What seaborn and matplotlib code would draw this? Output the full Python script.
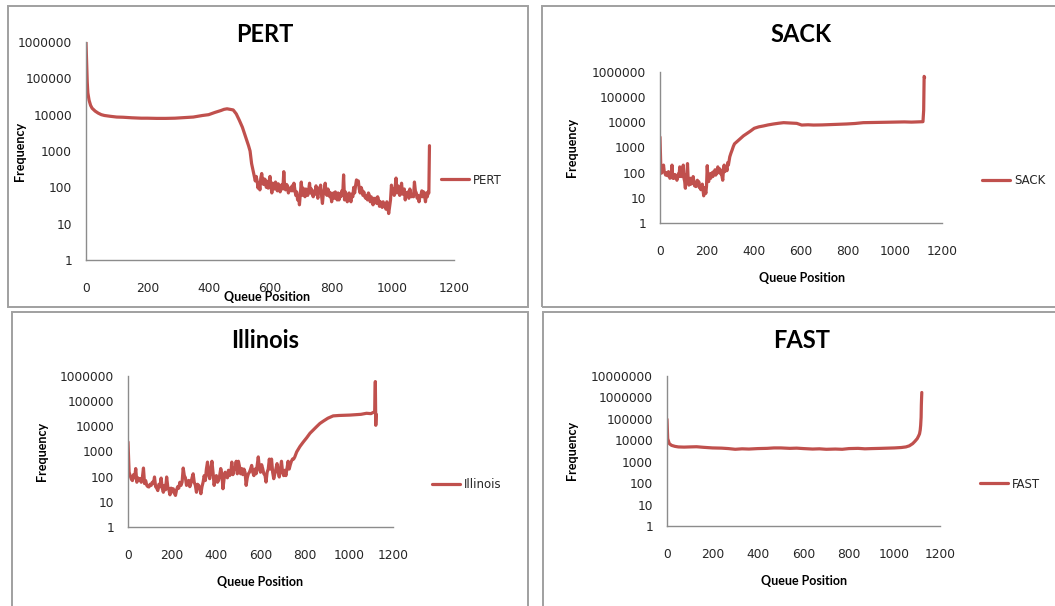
import matplotlib
matplotlib.use("Agg")
import matplotlib.pyplot as plt
import pandas as pd
import seaborn as sns
from matplotlib.patches import Rectangle
from matplotlib.ticker import FixedLocator, FuncFormatter, NullLocator

# ---------------------------------------------------------------- data
# PERT: smooth head, then a noisy tail sampled every 3 positions
pert_head_pos = [0, 2, 4, 6, 10, 15, 20, 30, 40, 50, 60, 80, 100, 120, 150,
                 180, 200, 230, 260, 290, 320, 350, 380, 400, 420, 440, 450,
                 460, 470, 480, 490, 500, 510, 520, 530, 535, 540, 546, 552]
pert_head_freq = [1000000, 300000, 80000, 40000, 25000, 18000, 15000, 12500,
                  11000, 10000, 9500, 9000, 8600, 8500, 8200, 8000, 8000, 7900,
                  7900, 8000, 8300, 8600, 9500, 10000, 11500, 13000, 14000,
                  14500, 14000, 13500, 10500, 7000, 4500, 2500, 1400, 1000,
                  450, 260, 150]
pert_tail_pos = list(range(555, 1119, 3)) + [1118, 1120]
pert_tail_freq = [200, 150, 95, 130, 85, 180, 240, 150, 120, 170,
                  160, 100, 140, 95, 150, 200, 110, 70, 130, 120,
                  90, 140, 100, 80, 125, 110, 75, 100, 120, 90,
                  270, 95, 85, 120, 110, 70, 95, 85, 80, 110,
                  80, 130, 90, 60, 75, 45, 60, 33, 70, 140,
                  60, 95, 80, 55, 90, 75, 60, 85, 130, 70,
                  90, 65, 55, 80, 65, 110, 75, 50, 95, 80,
                  115, 60, 36, 70, 85, 130, 65, 60, 90, 75,
                  55, 70, 40, 65, 70, 50, 75, 60, 45, 70,
                  45, 65, 55, 80, 60, 220, 45, 75, 60, 40,
                  55, 70, 50, 40, 65, 55, 100, 70, 110, 160,
                  130, 150, 90, 70, 100, 85, 60, 75, 55, 50,
                  60, 45, 70, 60, 40, 55, 45, 33, 50, 45,
                  50, 36, 55, 45, 30, 40, 35, 28, 40, 30,
                  35, 25, 40, 30, 19, 30, 45, 115, 70, 90,
                  60, 100, 180, 70, 110, 100, 60, 85, 130, 65,
                  70, 90, 45, 70, 60, 75, 50, 90, 65, 55,
                  60, 55, 140, 80, 70, 50, 60, 40, 55, 60,
                  80, 55, 75, 60, 40, 70, 55, 75,
                  70, 1400]

# SACK: noisy start sampled every 3 positions, then the smooth plateau
sack_head_pos = list(range(0, 300, 3))
sack_head_freq = [2600, 230, 95, 120, 130, 200, 110, 95, 80, 100,
                  95, 75, 110, 90, 60, 80, 70, 200, 60, 75,
                  60, 85, 75, 60, 50, 65, 90, 70, 170, 80,
                  70, 90, 110, 200, 60, 45, 24, 80, 60, 230,
                  50, 32, 45, 60, 35, 44, 40, 70, 45, 30,
                  40, 28, 35, 50, 30, 44, 25, 30, 21, 28,
                  35, 20, 12, 25, 21, 15, 30, 190, 60, 44,
                  70, 90, 60, 80, 100, 70, 110, 90, 130, 80,
                  90, 120, 170, 100, 110, 140, 90, 110, 70, 50,
                  130, 200, 110, 130, 170, 120, 250, 200, 300, 430]
sack_tail_pos = [302, 307, 312, 317, 330, 342, 355, 370, 385, 401, 420, 441,
                 460, 483, 505, 526, 555, 582, 603, 630, 653, 690, 724, 760,
                 794, 830, 865, 900, 936, 970, 1006, 1040, 1070, 1100, 1119,
                 1122, 1124, 1126]
sack_tail_freq = [600, 800, 1100, 1400, 1800, 2300, 2900, 3600, 4500, 5800,
                  6600, 7200, 7900, 8600, 9200, 9700, 9400, 9100, 7800, 8000,
                  7800, 7900, 8100, 8400, 8600, 9000, 9700, 9800, 10000, 10100,
                  10300, 10400, 10200, 10500, 10600, 30000, 670000, 600000]

# Illinois: noisy body sampled every 5 positions, then the climb and plateau
illinois_head_pos = list(range(0, 760, 5))
illinois_head_freq = [2400, 150, 110, 80, 70, 120, 90, 210, 60, 90,
                      70, 83, 60, 90, 220, 53, 70, 45, 40, 39,
                      50, 45, 60, 53, 97, 40, 35, 28, 50, 40,
                      88, 35, 24, 45, 30, 97, 40, 30, 19, 35,
                      25, 33, 22, 18, 30, 40, 35, 60, 45, 61,
                      220, 110, 90, 45, 60, 71, 40, 55, 90, 130,
                      60, 45, 24, 50, 45, 35, 21, 40, 60, 110,
                      70, 200, 380, 120, 83, 200, 410, 150, 45, 90,
                      110, 60, 70, 110, 210, 130, 33, 80, 150, 110,
                      90, 180, 110, 130, 380, 120, 200, 210, 410, 130,
                      410, 250, 130, 210, 120, 200, 150, 45, 90, 130,
                      150, 200, 280, 150, 110, 200, 130, 280, 610, 200,
                      150, 300, 210, 130, 120, 61, 150, 200, 500, 200,
                      500, 150, 83, 130, 200, 330, 150, 97, 200, 410,
                      150, 110, 180, 110, 210, 410, 200, 300, 410, 500,
                      500, 600]
illinois_tail_pos = [764, 779, 794, 809, 824, 839, 854, 869, 884, 905, 929,
                     955, 980, 1005, 1030, 1055, 1080, 1100, 1117, 1120, 1122,
                     1124]
illinois_tail_freq = [970, 1600, 2400, 3500, 5300, 7200, 9700, 13000, 16000,
                      21000, 26000, 27000, 27500, 28000, 29000, 30000, 33000,
                      32000, 38000, 600000, 11000, 30000]

fast_pos = [0, 3, 10, 20, 35, 50, 75, 100, 130, 160, 200, 240, 270, 300, 330,
            360, 400, 440, 470, 500, 540, 570, 600, 640, 670, 700, 740, 770,
            800, 840, 870, 900, 940, 970, 1000, 1030, 1050, 1065, 1080, 1090,
            1100, 1106, 1110, 1113, 1115, 1117, 1118, 1119, 1120]
fast_freq = [96000, 12000, 7000, 5800, 5200, 4900, 4800, 4900, 5000, 4700,
             4400, 4300, 4100, 3800, 4000, 3900, 4100, 4200, 4400, 4400, 4200,
             4300, 4100, 3900, 4000, 3800, 3900, 3800, 4100, 4200, 4000, 4100,
             4200, 4300, 4400, 4600, 4900, 5500, 7000, 9000, 12000, 16000,
             20000, 30000, 50000, 120000, 440000, 900000, 1700000]

x_ticks = [0, 200, 400, 600, 800, 1000, 1200]

# ---------------------------------------------------------------- layout
W, H = 1055, 606
LINE = "#C0504D"
GREY = "#8c8c8c"
TXT = "#262626"

sns.set_theme(style="white")
plt.rcParams["font.family"] = ["DejaVu Sans"]

fig = plt.figure(figsize=(W / 100, H / 100), dpi=100)
fig.patch.set_facecolor("white")


def fx(x):
    return x / W


def fy(y):
    return 1 - y / H


def frame(x0, y0, x1, y1):
    fig.patches.append(Rectangle((fx(x0), fy(y1)), (x1 - x0) / W, (y1 - y0) / H,
                                 transform=fig.transFigure, fill=False,
                                 edgecolor="#a0a0a0", linewidth=1.4))


panels = [
    dict(name="PERT", pos=pert_head_pos + pert_tail_pos,
         freq=pert_head_freq + pert_tail_freq, ax=(86, 42, 454, 260),
         ymax=6, box=(8, 6, 528, 307), title=(265, 35), ylab=(20, 151),
         xlab=(267, 297), leg=(441, 180)),
    dict(name="SACK", pos=sack_head_pos + sack_tail_pos,
         freq=sack_head_freq + sack_tail_freq, ax=(660, 72, 942, 223),
         ymax=6, box=(542, 6, 1062, 307), title=(801, 35), ylab=(572, 147),
         xlab=(802, 278), leg=(982, 181)),
    dict(name="Illinois", pos=illinois_head_pos + illinois_tail_pos,
         freq=illinois_head_freq + illinois_tail_freq,
         ax=(128, 376, 393, 527), ymax=6, box=(12, 312, 528, 612),
         title=(265, 340), ylab=(42, 451), xlab=(260, 582), leg=(432, 485)),
    dict(name="FAST", pos=fast_pos, freq=fast_freq, ax=(667, 376, 940, 526),
         ymax=7, box=(543, 312, 1062, 612), title=(802, 340), ylab=(572, 450),
         xlab=(804, 581), leg=(980, 484)),
]

for p in panels:
    frame(*p["box"])
    l, t, r, b = p["ax"]
    ax = fig.add_axes([fx(l), fy(b), (r - l) / W, (b - t) / H])
    df = pd.DataFrame({"Queue Position": p["pos"], "Frequency": p["freq"]})
    sns.lineplot(data=df, x="Queue Position", y="Frequency", ax=ax, color=LINE,
                 linewidth=2.3, estimator=None, sort=False, label=p["name"])
    ax.set_yscale("log")
    ax.set_ylim(1, 10 ** p["ymax"])
    ax.set_xlim(0, 1200)
    ax.yaxis.set_major_locator(FixedLocator([10 ** k for k in range(p["ymax"] + 1)]))
    ax.yaxis.set_minor_locator(NullLocator())
    ax.yaxis.set_major_formatter(FuncFormatter(lambda v, _: f"{int(round(v))}"))
    ax.xaxis.set_major_locator(FixedLocator(x_ticks))
    ax.set_xlabel("")
    ax.set_ylabel("")
    for side in ("top", "right"):
        ax.spines[side].set_visible(False)
    for side in ("left", "bottom"):
        ax.spines[side].set_color(GREY)
        ax.spines[side].set_linewidth(1.0)
    ax.tick_params(axis="both", which="major", direction="out", length=4.5,
                   width=1.0, color=GREY, labelsize=8.8, labelcolor=TXT)
    ax.tick_params(axis="y", pad=5.5)
    ax.tick_params(axis="x", pad=11)
    ax.set_facecolor("none")
    ax.patch.set_alpha(0)

    ax.legend(loc="center left", bbox_to_anchor=(fx(p["leg"][0]), fy(p["leg"][1])),
              bbox_transform=fig.transFigure, frameon=False, fontsize=8.5,
              handlelength=2.4, handletextpad=0.3, borderpad=0,
              borderaxespad=0, labelcolor=TXT)

    fig.text(fx(p["title"][0]), fy(p["title"][1]), p["name"], ha="center",
             va="center", fontsize=17, fontweight="bold", family="Lato",
             color="black")
    fig.text(fx(p["ylab"][0]), fy(p["ylab"][1]), "Frequency", ha="center",
             va="center", rotation=90, fontsize=9, fontweight="bold",
             family="Lato", color="black")
    fig.text(fx(p["xlab"][0]), fy(p["xlab"][1]), "Queue Position", ha="center",
             va="center", fontsize=9, fontweight="bold", family="Lato",
             color="black")

fig.savefig("out.png", dpi=100, facecolor="white")
